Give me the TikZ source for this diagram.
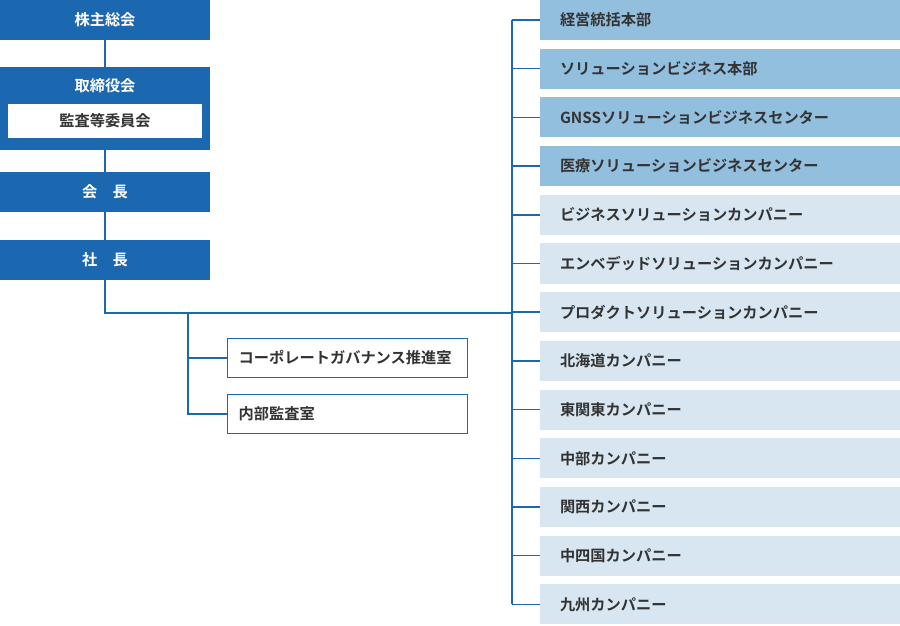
\documentclass[tikz,border=0pt]{standalone}
\usepackage{fontspec}
\newfontfamily\jp{Noto Sans CJK JP Bold}
\definecolor{navy}{HTML}{1C68B0}
\definecolor{deepblue}{HTML}{93BFDF}
\definecolor{paleblue}{HTML}{D7E6F1}
\definecolor{ink}{HTML}{333333}
\begin{document}
\begin{tikzpicture}[x=0.03cm,y=-0.03cm]

      \tikzset{organ/.style={fill=navy, text=white, font=\jp\fontsize{13}{15}\selectfont, inner sep=0pt, minimum width=6.3cm, minimum height=1.2cm},
               office/.style={draw=navy, fill=white, text=ink, font=\jp\fontsize{13}{15}\selectfont, inner sep=0pt, text width=7.2cm, align=left, minimum height=1.17cm},
               unit/.style={text=ink, font=\jp\fontsize{13}{15}\selectfont, inner sep=0pt, minimum width=10.8cm, minimum height=1.2cm, text width=9.6cm, align=left},
               link/.style={draw=navy, line width=1.2pt}}
      \useasboundingbox (0,0) rectangle (900,626);
%% Left column
      	\node[organ] (gm) at (105,20) {株主総会};
      	\fill[navy] (0,67) rectangle (210,150);
      	\node[organ, minimum height=0cm, fill=none] (bd) at (105,86) {取締役会};
      	\node[fill=white, text=ink, font=\jp\fontsize{13}{15}\selectfont, minimum width=5.82cm, minimum height=1.02cm, inner sep=0pt] (ac) at (105,121) {監査等委員会};
      	\coordinate (bdt) at (105,67);
      	\coordinate (bdb) at (105,150);
      	\node[organ] (ch) at (105,192) {会\quad 長};
      	\node[organ] (pr) at (105,260) {社\quad 長};
%% Offices
      	\node[office] (cg) at (347,358) {\hspace{0.35cm}コーポレートガバナンス推進室};
      	\node[office] (ia) at (347,414) {\hspace{0.35cm}内部監査室};
%% Right column
      	\foreach \name/\txt/\clr [count=\i from 0] in {
      	    u0/経営統括本部/deepblue, u1/ソリューションビジネス本部/deepblue,
      	    u2/GNSSソリューションビジネスセンター/deepblue, u3/医療ソリューションビジネスセンター/deepblue,
      	    u4/ビジネスソリューションカンパニー/paleblue, u5/エンベデッドソリューションカンパニー/paleblue,
      	    u6/プロダクトソリューションカンパニー/paleblue, u7/北海道カンパニー/paleblue,
      	    u8/東関東カンパニー/paleblue, u9/中部カンパニー/paleblue,
      	    u10/関西カンパニー/paleblue, u11/中四国カンパニー/paleblue, u12/九州カンパニー/paleblue}
      	    {\node[unit, fill=\clr] (\name) at (720,20+48.7*\i) {\txt};
      	     \draw[link] (512,20+48.7*\i) -- (\name.west);}
%Edges
		\draw[link] (gm) -- (bdt);
		\draw[link] (bdb) -- (ch);
		\draw[link] (ch) -- (pr);
		\draw[link] (pr.south) |- (512,313);
		\draw[link] (u0.west -| 512,0) -- (u12.west -| 512,0);
		\draw[link] (188,313) |- (cg.west);
		\draw[link] (188,313) |- (ia.west);

	\end{tikzpicture}
\end{document}
